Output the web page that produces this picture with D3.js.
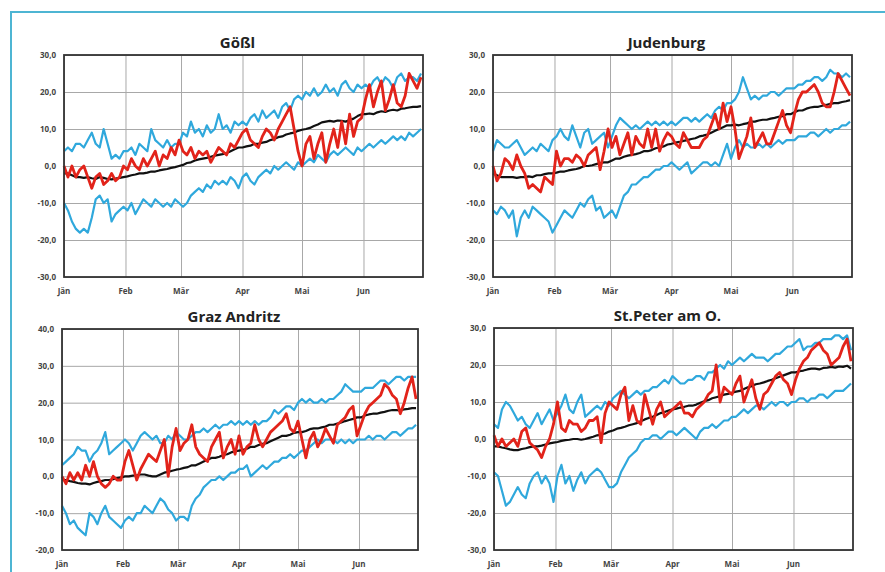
<!DOCTYPE html>
<html>
<head>
<meta charset="utf-8">
<script src="https://cdn.jsdelivr.net/npm/d3@7/dist/d3.min.js"></script>
<style>
  body { margin: 0; background: #fff; }
  svg { display: block; }
  .ylab, .xlab { font-family: "Open Sans", sans-serif; font-size: 8px; font-weight: 700; fill: #444; }
  .title { font-family: "Open Sans", sans-serif; font-size: 15px; font-weight: 700; fill: #222; }
</style>
</head>
<body>
<div id="chart"></div>
<script>
// days (every 2nd day from 1 Jan to 30 Jun)
const days = d3.range(0, 181, 2);
const monthStarts = [0, 31, 59, 90, 120, 151];
const monthLabels = ["Jän", "Feb", "Mär", "Apr", "Mai", "Jun"];

// Gößl
const goesslMax = [4,5,4,6,6,5,7,9,6,5,10,6,2,3,2,4, 4,5,3,6,5,4,10,7,6,5,7,5,6,6, 9,8,12,9,10,8,11,9,10,14,10,11,9,12,11, 12,11,13,14,12,15,13,14,15,13,16,17,15,18,19, 18,20,19,21,19,20,22,20,21,19,22,23,21,20,22,21, 22,21,23,24,22,24,23,21,24,25,23,24,24,23,25];
const goesslMin = [-10,-12,-15,-17,-18,-17,-18,-14,-9,-8,-10,-9,-15,-13,-12,-11, -12,-10,-13,-11,-9,-10,-11,-9,-10,-11,-10,-11,-9,-10, -11,-10,-8,-7,-6,-7,-5,-6,-4,-5,-4,-5,-3,-4,-6, -3,-2,-4,-5,-3,-2,-1,-2,0,-1,0,1,0,-1,1, 0,1,2,1,3,2,1,3,4,3,4,5,4,3,5,4, 5,6,5,6,7,6,7,8,7,8,7,9,8,9,10];
const goesslMean = [-2,-2,-2.5,-3,-3,-3.2,-3,-3.3,-3.5,-3,-3.2,-3.5,-3.6,-3.4,-3.2,-3, -2.8,-2.5,-2.3,-2,-2,-1.8,-1.5,-1.5,-1.2,-1,-0.8,-0.5,-0.3,0, 0.3,0.8,1,1.5,1.8,2,2.2,2.5,2.8,3,3.2,3.5,4,4.5,5, 5,5.3,5.5,6,6,6.3,6.5,7,7.3,7.8,8,8.5,8.8,9,9.5, 9.8,10,10.3,10.8,11.2,11.8,12,12.2,12,12.3,12.2,12,12.4,12.8,13.5,14, 14,14.2,14,14.5,14.8,14.6,15,15.2,15,15.5,15.6,15.8,16,16,16.2];
const goesslYear = [0,-3,0,-3,-1,0,-3,-6,-3,-2,-5,-4,-2,-4,-3,0, -1,2,0,-1,2,0,2,4,0,3,2,5,3,7, 4,3,5,2,4,3,4,1,3,5,4,3,6,5,7, 9,10,7,6,5,8,10,9,7,10,12,14,16,10,4, 0,6,8,2,6,9,1,6,10,5,12,6,14,8,12,13, 18,22,16,20,23,15,18,22,17,16,19,25,23,21,24];

// Judenburg
const judenMax = [4,7,6,5,5,6,7,5,3,4,5,4,6,5,4,7, 8,10,8,7,11,8,5,9,10,6,7,8,9,5, 8,11,13,12,11,10,11,10,11,12,11,12,11,12,11, 12,11,12,13,13,12,13,12,13,14,13,15,16,15,17, 17,18,20,24,21,18,19,18,19,19,20,20,19,20,21,21, 21,22,22,23,23,24,24,23,24,26,25,25,24,25,24];
const judenMin = [-12,-13,-11,-12,-14,-12,-19,-14,-12,-14,-11,-12,-13,-14,-15,-18, -16,-14,-12,-13,-14,-12,-10,-11,-9,-8,-12,-11,-14,-13, -12,-14,-11,-8,-7,-5,-5,-4,-3,-3,-2,-1,-1,0,0, 1,0,-1,0,1,-2,-1,0,1,1,0,1,0,3,6, 2,5,7,5,6,5,5,6,5,6,5,6,7,6,7,7, 7,8,8,8,9,9,8,9,10,9,10,10,11,11,12];
const judenMean = [-2,-2.5,-3,-3,-3,-3,-3.2,-3,-3,-2.8,-3,-2.5,-2.5,-2.2,-2,-2, -1.8,-1.5,-1.5,-1.2,-1,-0.8,-0.5,0,0,0.2,0.5,0.8,1,1, 1.5,2,2,2.5,2.8,3,3.2,3.5,4,4,4.3,4.8,5,5.3,5.8, 6,6.3,6.5,6.8,7,7.3,7.5,8,8.2,8.5,9,9.5,10,10.5,11, 11,11.2,11,11.3,11.5,12,12,12.3,12.5,12.5,12.8,13,13.3,13.5,14,14, 14.5,15,15,15.5,15.8,16,16,16.3,16.5,16.8,17,17,17.3,17.5,17.8];
const judenYear = [0,-4,-2,2,1,-1,3,0,-2,-6,-5,-6,-7,-3,-4,-5, 4,0,2,2,1,3,2,0,3,4,5,-1,4,10, 5,8,3,6,9,3,8,6,5,10,5,10,4,7,9, 8,6,5,9,7,5,5,5,7,8,11,14,10,17,12, 16,10,2,5,8,13,5,7,9,6,6,9,12,15,11,9, 14,18,20,20,21,22,20,17,16,16,20,25,23,21,19];

// Graz Andritz
const grazMax = [3,4,5,6,8,7,7,4,6,7,9,12,6,7,8,9, 10,9,7,9,11,12,11,10,11,9,9,11,10,12, 11,10,10,11,12,12,13,12,13,14,13,14,14,15,14, 15,14,15,14,15,14,15,15,16,18,17,18,19,19,18, 20,21,20,21,20,20,21,20,21,21,22,23,25,24,23,23, 23,24,24,24,25,26,26,25,26,27,27,26,27,27,27];
const grazMin = [-8,-10,-13,-12,-14,-15,-16,-10,-11,-13,-10,-8,-11,-12,-13,-14, -12,-11,-12,-10,-10,-8,-9,-10,-8,-6,-7,-9,-10,-12, -11,-11,-12,-8,-6,-5,-3,-2,-1,-1,0,-1,0,1,1, 2,2,3,0,1,2,3,2,3,4,4,5,5,6,5, 6,7,7,8,9,10,9,10,10,10,9,10,9,10,9,10, 10,10,11,10,11,11,10,11,12,12,11,12,13,13,14];
const grazMean = [-1,-1,-1.3,-1.5,-1.8,-2,-2,-2.2,-1.8,-1.5,-1.3,-1,-1,-0.8,-0.5,-0.3, 0,0,0.2,0.3,0.5,0.5,0.2,0,0,0.5,1,1.2,1.5,1.8, 2,2.3,2.5,3,3,3.5,4,4.5,5,5,5.3,5.8,6,6.5,6.8, 7,7.2,7.5,8,8,8.5,8.8,9,9.5,10,10.5,11,11,11.3,11.8, 12,12,12.3,12.8,13,13,13.3,13.5,14,14,14.3,14.6,15,15.3,15.6,16, 16,16.5,16.8,17,17,17.3,17.5,17.8,18,18,17.8,18.2,18.3,18.5,18.5];
const grazYear = [0,-2,1,-1,1,-1,3,0,4,0,-2,-3,-2,0,-1,-1, 4,7,3,-1,2,4,6,5,4,7,10,0,8,13, 7,9,10,14,8,6,5,4,8,10,12,5,8,10,6, 11,6,8,9,14,10,8,10,12,13,14,15,17,13,12, 15,10,5,10,12,8,10,13,11,9,14,15,16,18,19,11, 14,17,19,20,21,22,25,24,22,21,17,20,24,27,21];

// St.Peter am O.
const peterMax = [4,3,8,10,9,7,5,6,4,3,5,7,4,6,8,5, 7,9,12,8,7,10,12,6,7,8,9,8,10,9, 11,12,13,12,11,12,13,12,13,13,14,14,15,16,15, 17,16,15,15,16,16,17,17,16,18,18,19,20,19,21, 20,21,22,21,22,23,22,22,22,21,22,23,23,24,25,25, 26,27,24,25,25,26,26,27,27,27,28,28,27,28,24];
const peterMin = [-9,-10,-14,-18,-17,-15,-13,-15,-16,-12,-10,-9,-12,-10,-12,-17, -10,-7,-12,-10,-14,-11,-9,-12,-10,-9,-8,-9,-11,-13, -13,-12,-9,-7,-5,-4,-3,-1,0,0,1,1,0,1,2, 2,1,2,3,2,1,0,2,3,3,4,3,4,5,5, 6,6,7,8,7,8,9,9,8,9,10,9,10,10,9,10, 10,11,11,10,11,11,12,12,11,12,13,13,13,14,15];
const peterMean = [-2,-2,-2.3,-2.5,-2.8,-3,-3,-2.7,-2.5,-2.2,-2,-2,-1.8,-1.5,-1.2,-1, -0.8,-0.5,-0.3,-0.2,0,0,-0.2,0,0.3,0.6,1,1.2,1.5,2, 2.3,2.8,3,3.3,3.7,4,4.3,4.8,5.3,5.7,6,6.5,7,7.3,7.7, 8,8.2,8.5,8.7,9,9,9.3,9.8,10.2,10.5,11,11.3,11.6,12,12.2, 12.5,12.8,13,13.5,14,14.3,14.8,15,15.3,15.7,16,16.4,16.8,17.2,17.6,18, 18,18.3,18.5,18.8,19,19,18.8,19.2,19.3,19.5,19.3,19.6,19.5,19.8,19];
const peterYear = [1,-2,0,-2,-1,0,-2,2,3,-1,-2,-3,-5,-2,0,4, 10,3,2,5,4,4,2,3,5,5,6,-1,7,10, 9,8,12,14,5,9,5,4,12,8,4,8,10,6,7, 8,9,10,7,7,6,8,9,10,12,13,20,10,14,13, 12,15,17,10,13,16,11,8,12,13,15,17,18,16,15,12, 16,19,21,22,24,25,26,24,23,20,21,22,25,27,21];

const panels = [
  { title: "Gößl", x: 64, y: 55, w: 359, h: 222, yDomain: [-30, 30], max: goesslMax, min: goesslMin, mean: goesslMean, year: goesslYear },
  { title: "Judenburg", x: 493, y: 55, w: 359, h: 222, yDomain: [-30, 30], max: judenMax, min: judenMin, mean: judenMean, year: judenYear },
  { title: "Graz Andritz", x: 62, y: 329, w: 356, h: 221, yDomain: [-20, 40], max: grazMax, min: grazMin, mean: grazMean, year: grazYear },
  { title: "St.Peter am O.", x: 494, y: 328, w: 359, h: 222, yDomain: [-30, 30], max: peterMax, min: peterMin, mean: peterMean, year: peterYear }
];

const width = 885, height = 572;
const svg = d3.select("#chart").append("svg")
  .attr("width", width)
  .attr("height", height);

// light blue frame, cut off at right and bottom
svg.append("rect")
  .attr("x", 11).attr("y", 12)
  .attr("width", 900).attr("height", 600)
  .attr("fill", "none")
  .attr("stroke", "#4db5d3")
  .attr("stroke-width", 2);

const fmt = d => d3.format(".1f")(d).replace(".", ",").replace("−", "-");

panels.forEach(p => {
  const g = svg.append("g").attr("transform", `translate(${p.x},${p.y})`);
  const x = d3.scaleLinear().domain([0, 181]).range([0, p.w]);
  const y = d3.scaleLinear().domain(p.yDomain).range([p.h, 0]);
  const yTicks = d3.range(p.yDomain[0], p.yDomain[1] + 1, 10);

  // grid
  g.append("g")
    .call(d3.axisLeft(y).tickValues(yTicks).tickSize(-p.w).tickFormat(""))
    .call(a => a.select(".domain").remove())
    .call(a => a.selectAll("line").attr("stroke", "#a8a8a8").attr("stroke-width", 1));
  g.append("g")
    .attr("transform", `translate(0,${p.h})`)
    .call(d3.axisBottom(x).tickValues(monthStarts).tickSize(p.h).tickFormat(""))
    .call(a => a.select(".domain").remove())
    .call(a => a.selectAll("line").attr("stroke", "#a8a8a8").attr("stroke-width", 1).attr("y2", -p.h));

  // tick labels
  g.selectAll(".ylab").data(yTicks).enter().append("text")
    .attr("class", "ylab")
    .attr("x", -8).attr("y", d => y(d) + 3)
    .attr("text-anchor", "end")
    .text(fmt);
  g.selectAll(".xlab").data(monthStarts).enter().append("text")
    .attr("class", "xlab")
    .attr("x", d => x(d)).attr("y", p.h + 17)
    .attr("text-anchor", "middle")
    .text((d, i) => monthLabels[i]);

  const line = d3.line().x((d, i) => x(days[i])).y(d => y(d));
  [[p.max, "#2fa8dc", 2.2], [p.min, "#2fa8dc", 2.2], [p.mean, "#111", 2.2], [p.year, "#e2231a", 2.8]]
    .forEach(([vals, col, sw]) => {
      g.append("path").datum(vals)
        .attr("fill", "none").attr("stroke", col).attr("stroke-width", sw)
        .attr("stroke-linejoin", "round")
        .attr("d", line);
    });

  // plot border
  g.append("rect")
    .attr("width", p.w).attr("height", p.h)
    .attr("fill", "none").attr("stroke", "#333").attr("stroke-width", 1.8);

  g.append("text")
    .attr("class", "title")
    .attr("x", p.w / 2 - 6).attr("y", -7)
    .attr("text-anchor", "middle")
    .text(p.title);
});
</script>
</body>
</html>
